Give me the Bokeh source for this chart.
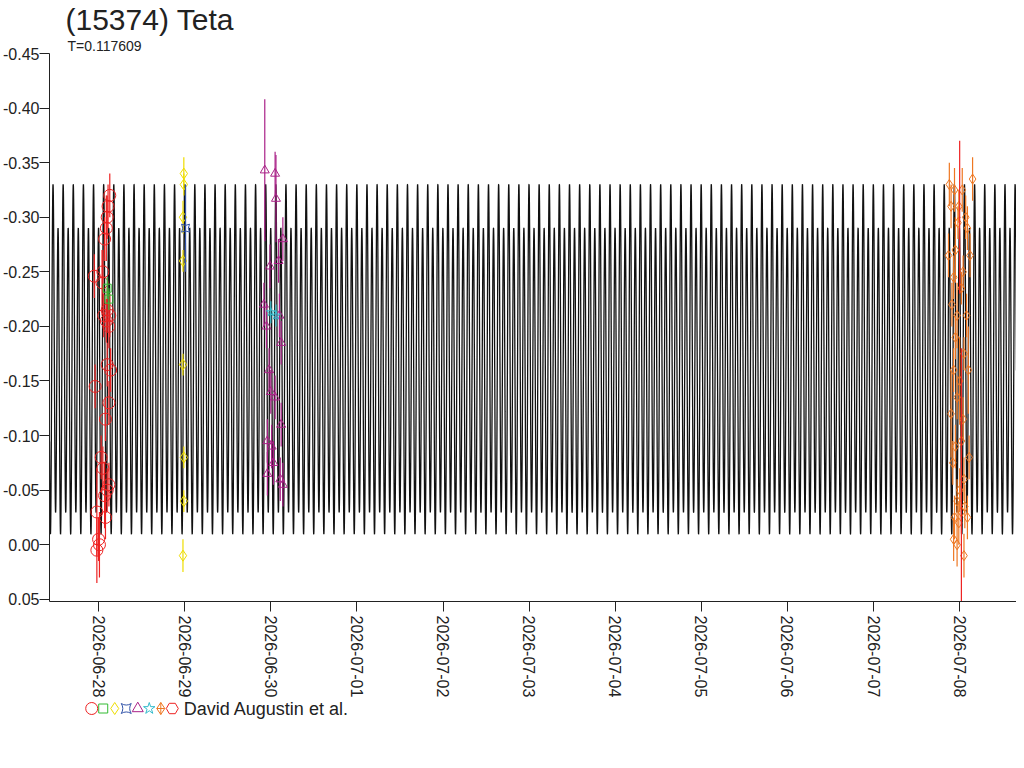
import math
import numpy as np
from bokeh.plotting import figure
from bokeh.layouts import column
from bokeh.models import Range1d, FixedTicker, PrintfTickFormatter, Title
from bokeh.embed import file_html
from bokeh.resources import INLINE
from bokeh.core.properties import value

FONT = "Liberation Sans"
# x in days since 2026-06-28 00:00
tick_days = list(range(0, 11))
tick_labels = ["2026-06-28", "2026-06-29", "2026-06-30", "2026-07-01", "2026-07-02", "2026-07-03",
               "2026-07-04", "2026-07-05", "2026-07-06", "2026-07-07", "2026-07-08"]
y_ticks = [-0.45, -0.40, -0.35, -0.30, -0.25, -0.20, -0.15, -0.10, -0.05, 0.00, 0.05]

# model lightcurve (Fourier fit): period and coefficients
period = 0.117609
c0, b1, c1, b2 = -0.165, 0.02, 0.01, -0.145
t0 = -0.57
t1 = 10.66

# observations: (day, mag, err)
red_d = [-0.05, -0.04, -0.02, -0.02, 0.00, 0.01, 0.03, 0.05, 0.07, 0.10, 0.12, 0.08, 0.04, 0.06, 0.05, 0.09, 0.10, 0.12, 0.10, 0.13, 0.09, 0.07, 0.11, 0.13, 0.10, 0.08, 0.12, 0.14]
red_m = [-0.246, -0.145, -0.03, 0.005, -0.005, 0.00, -0.08, -0.07, -0.045, -0.05, -0.13, -0.115, -0.24, -0.21, -0.25, -0.205, -0.215, -0.20, -0.30, -0.32, -0.29, -0.28, -0.31, -0.21, -0.165, -0.025, -0.055, -0.16]
red_e = [0.02, 0.02, 0.04, 0.03, 0.02, 0.03, 0.02, 0.02, 0.03, 0.02, 0.02, 0.02, 0.03, 0.02, 0.02, 0.02, 0.02, 0.02, 0.02, 0.02, 0.03, 0.02, 0.02, 0.02, 0.02, 0.02, 0.02, 0.02]
green_d = [0.10, 0.12]
green_m = [-0.235, -0.225]
green_e = [0.01, 0.01]
yellow_d = [0.99, 0.99, 0.98, 0.98, 0.98, 0.99, 0.99, 0.98]
yellow_m = [-0.34, -0.33, -0.30, -0.26, -0.165, -0.08, -0.04, 0.01]
yellow_e = [0.015, 0.01, 0.015, 0.01, 0.01, 0.01, 0.01, 0.015]
blue_d = [1.01]
blue_m = [-0.29]
blue_e = [0.04]
purple_d = [1.93, 2.05, 2.06, 1.92, 1.95, 1.99, 2.09, 2.14, 2.00, 2.05, 1.96, 2.01, 2.03, 1.96, 2.11, 2.14, 2.12, 2.12, 1.98, 2.10]
purple_m = [-0.343, -0.34, -0.317, -0.22, -0.20, -0.255, -0.26, -0.28, -0.14, -0.135, -0.095, -0.09, -0.075, -0.065, -0.06, -0.055, -0.11, -0.185, -0.16, -0.21]
purple_e = [0.065, 0.02, 0.04, 0.02, 0.02, 0.02, 0.02, 0.02, 0.02, 0.02, 0.02, 0.02, 0.02, 0.02, 0.02, 0.02, 0.02, 0.02, 0.02, 0.02]
cyan_d = [2.06, 2.00]
cyan_m = [-0.21, -0.213]
cyan_e = [0.01, 0.01]
orange_d = [9.88, 9.94, 9.99, 10.03, 10.07, 10.15, 9.90, 9.98, 10.09, 9.87, 9.95, 10.04, 10.12, 9.93, 10.02, 9.91, 9.97, 10.08, 9.95, 10.05, 9.93, 10.00, 10.10, 9.97, 10.04, 9.90, 10.02, 10.11, 9.95, 10.05, 10.00, 9.92, 9.97, 10.06, 10.02, 9.94, 9.99, 10.09, 9.97, 9.93, 10.05]
orange_m = [-0.33, -0.325, -0.31, -0.325, -0.30, -0.335, -0.31, -0.295, -0.29, -0.265, -0.27, -0.25, -0.265, -0.245, -0.235, -0.22, -0.21, -0.21, -0.19, -0.175, -0.16, -0.15, -0.16, -0.135, -0.115, -0.12, -0.095, -0.08, -0.09, -0.06, -0.05, -0.075, -0.04, -0.035, -0.03, -0.025, -0.02, -0.025, 0.00, -0.005, 0.01]
orange_e = [0.02, 0.02, 0.015, 0.02, 0.02, 0.02, 0.02, 0.015, 0.02, 0.02, 0.03, 0.015, 0.02, 0.02, 0.015, 0.02, 0.03, 0.02, 0.02, 0.015, 0.02, 0.04, 0.04, 0.02, 0.02, 0.04, 0.02, 0.02, 0.02, 0.02, 0.02, 0.02, 0.02, 0.02, 0.02, 0.02, 0.02, 0.02, 0.02, 0.02, 0.02]
red2_d = [10.00, 10.02]
red2_m = [-0.30, -0.06]
red2_e = [0.07, 0.12]

p = figure(width=1016, height=700, output_backend="svg", toolbar_location=None,
           x_range=Range1d(t0, t1), y_range=Range1d(0.052, -0.45),
           min_border_left=30, min_border_right=0, min_border_top=4)
p.grid.visible = False
p.outline_line_color = None
p.background_fill_color = "white"

p.add_layout(Title(text="T=0.117609", text_font=FONT, text_font_size="14px",
                   text_font_style="normal", text_color="#222222", offset=18, standoff=0), "above")
p.add_layout(Title(text="(15374) Teta", text_font=FONT, text_font_size="30px",
                   text_font_style="normal", text_color="#222222", offset=16, standoff=0), "above")

tt = np.linspace(t0, t1, 24000)
ph = 2 * np.pi * tt / period
mm = c0 + b1 * np.cos(ph) + c1 * np.sin(ph) + b2 * np.cos(2 * ph)
p.line(tt, mm, line_color="#111111", line_width=1.3)

def series(d, m, e, color, marker, size):
    d = np.array(d); m = np.array(m); e = np.array(e)
    p.segment(d, m - e, d, m + e, line_color=color, line_width=1.2)
    p.scatter(d, m, marker=marker, size=size, line_color=color, fill_color=None, line_width=1)

series(red_d, red_m, red_e, "#ee2222", "circle", 12)
series(green_d, green_m, green_e, "#33bb33", "square", 8)
series(yellow_d, yellow_m, yellow_e, "#eedd00", "diamond", 11)
series(blue_d, blue_m, blue_e, "#3355aa", "square_pin", 8)
series(purple_d, purple_m, purple_e, "#aa2288", "triangle", 9)
series(cyan_d, cyan_m, cyan_e, "#33bbcc", "star", 9)
series(orange_d, orange_m, orange_e, "#ee7722", "diamond", 10)
series(red2_d, red2_m, red2_e, "#ee2222", "circle", 1)

p.xaxis.ticker = FixedTicker(ticks=tick_days)
p.xaxis.major_label_overrides = {d: l for d, l in zip(tick_days, tick_labels)}
p.xaxis.major_label_orientation = -math.pi / 2
p.yaxis.ticker = FixedTicker(ticks=y_ticks)
p.yaxis.formatter = PrintfTickFormatter(format="%.2f")
for ax in (p.xaxis, p.yaxis):
    ax.major_label_text_font = FONT
    ax.major_label_text_font_size = "16px"
    ax.major_label_text_color = "#222222"
    ax.axis_line_color = "#222222"
    ax.major_tick_line_color = "#222222"
    ax.major_tick_out = 10
    ax.major_tick_in = 0
    ax.minor_tick_line_color = None
p.yaxis.major_label_standoff = 0
p.xaxis.major_label_standoff = 4

leg = figure(width=1016, height=40, output_backend="svg", toolbar_location=None,
             x_range=Range1d(-40, 968), y_range=Range1d(0, 40), min_border=0)
leg.axis.visible = False
leg.grid.visible = False
leg.outline_line_color = None
lx = [4, 16, 28, 40, 52, 64, 76, 88]
lc = ["#ee2222", "#33bb33", "#eedd00", "#3355aa", "#aa2288", "#33bbcc", "#ee7722", "#ee2222"]
lm = ["circle", "square", "diamond", "square_pin", "triangle", "star", "diamond_cross", "hex"]
ls = [12, 9, 12, 10, 11, 12, 12, 12]
for x, c, mk, s in zip(lx, lc, lm, ls):
    leg.scatter([x], [32], marker=mk, size=s, line_color=c, fill_color=None, line_width=1)
leg.text([100], [32], text=["David Augustin et al."], text_font=value(FONT), text_font_size="18px",
         text_baseline="middle", text_color="#222222")

out = column(p, leg, spacing=0)
open("out.html", "w").write(file_html(out, INLINE))
